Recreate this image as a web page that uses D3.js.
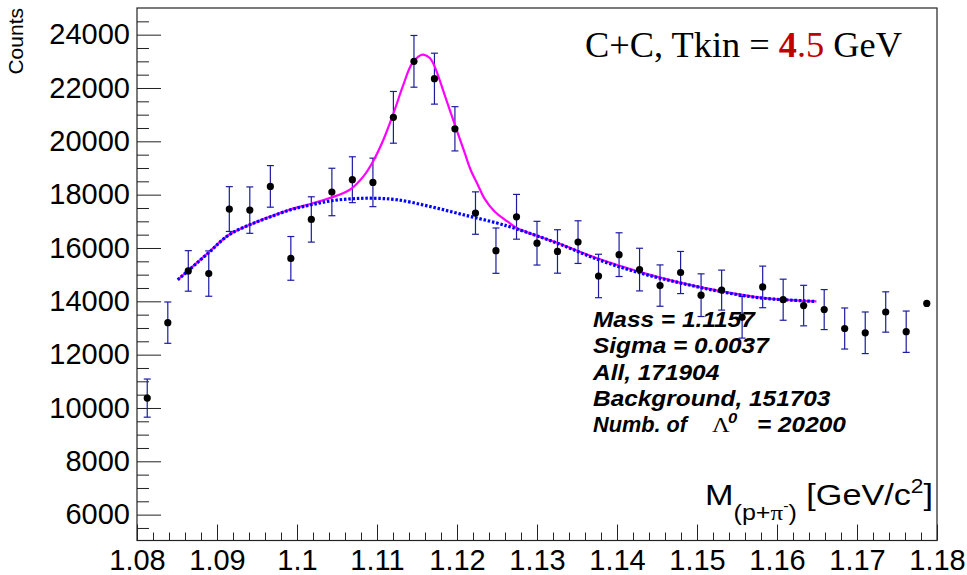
<!DOCTYPE html>
<html>
<head>
<meta charset="utf-8">
<script src="https://cdn.jsdelivr.net/npm/d3@7"></script>
<style>
  body { margin: 0; background: #fff; }
  svg { display: block; }
</style>
</head>
<body>
<script>
// bin centres of the invariant mass histogram, GeV/c^2
var massBins = [1.08128, 1.08385, 1.08641, 1.08897, 1.09154, 1.09410, 1.09667, 1.09923, 1.10179, 1.10436,
  1.10692, 1.10949, 1.11205, 1.11462, 1.11718, 1.11974, 1.12231, 1.12487, 1.12744, 1.13000,
  1.13256, 1.13513, 1.13769, 1.14026, 1.14282, 1.14538, 1.14795, 1.15051, 1.15308, 1.15564,
  1.15821, 1.16077, 1.16333, 1.16590, 1.16846, 1.17103, 1.17359, 1.17615, 1.17872];
var counts = [10370, 13200, 15140, 15040, 17460, 17420, 18310, 15610, 17070, 18100,
  18560, 18460, 20900, 23000, 22350, 20470, 17310, 15900, 17170, 16180,
  15870, 16220, 14950, 15750, 15190, 14590, 15080, 14230, 14420, 13400,
  14540, 14060, 13840, 13690, 12980, 12820, 13600, 12860, 13920];
var countErrors = [715, 775, 760, 850, 840, 870, 780, 820, 850, 890,
  860, 910, 970, 970, 955, 830, 795, 850, 840, 820,
  815, 800, 815, 820, 800, 775, 790, 800, 750, 780,
  780, 770, 760, 750, 770, 780, 756, 775, 0];

// background fit (blue dotted)
var bgMass = [1.0851, 1.0889, 1.0915, 1.0941, 1.0966, 1.0992, 1.1018, 1.1043, 1.1069, 1.1095,
  1.1125, 1.1166, 1.1208, 1.1250, 1.1274, 1.1325, 1.1377, 1.1428, 1.1480, 1.1531, 1.1582, 1.1633, 1.1649];
var bgCounts = [14807, 15808, 16495, 16871, 17160, 17434, 17621, 17770, 17846, 17865,
  17809, 17558, 17246, 16934, 16720, 16184, 15557, 15069, 14683, 14357, 14120, 14019, 13993];

// signal + background fit (magenta)
var fitMass = [1.0851, 1.0889, 1.0915, 1.0941, 1.0966, 1.0992, 1.1018, 1.1041, 1.1066, 1.1083,
  1.1095, 1.1108, 1.1120, 1.1133, 1.1143, 1.1154, 1.1158, 1.1166, 1.1172, 1.1185,
  1.1198, 1.1209, 1.1217, 1.1226, 1.1234, 1.1247, 1.1263, 1.1274, 1.1300, 1.1325,
  1.1377, 1.1428, 1.1480, 1.1531, 1.1582, 1.1633, 1.1649];
var fitCounts = [14807, 15820, 16495, 16871, 17171, 17452, 17659, 17872, 18184, 18685,
  19246, 20060, 21000, 22124, 22874, 23223, 23250, 23126, 22810, 21700,
  20560, 19621, 18934, 18371, 17872, 17371, 16996, 16758, 16458, 16195,
  15595, 15106, 14694, 14375, 14131, 14019, 14000];

var xTicks = [1.08, 1.09, 1.10, 1.11, 1.12, 1.13, 1.14, 1.15, 1.16, 1.17, 1.18];
var yTicks = [6000, 8000, 10000, 12000, 14000, 16000, 18000, 20000, 22000, 24000];

var infoLines = ["Mass = 1.1157", "Sigma = 0.0037", "All, 171904", "Background, 151703"];

var W = 967, H = 575;
var plotLeft = 137, plotRight = 937, plotTop = 8, plotBottom = 540.5;
var sans = "Liberation Sans, Arial, sans-serif", serif = "Liberation Serif, Times New Roman, serif";

var svg = d3.select("body").append("svg").attr("width", W).attr("height", H)
  .attr("font-family", sans);

var x = d3.scaleLinear().domain([1.08, 1.18]).range([plotLeft, plotRight]);
var y = d3.scaleLinear().domain([5030, 25000]).range([plotBottom, plotTop]);

// frame
svg.append("rect").attr("x", plotLeft).attr("y", plotTop)
  .attr("width", plotRight - plotLeft).attr("height", plotBottom - plotTop)
  .attr("fill", "none").attr("stroke", "#222").attr("stroke-width", 1.2);

// minor ticks
var xMinor = d3.range(1.082, 1.18, 0.002).filter(function(v) { return Math.abs(v * 100 - Math.round(v * 100)) > 1e-6; });
var yMinor = d3.range(5500, 25000, 500).filter(function(v) { return v % 2000 != 0; });

svg.append("g").attr("transform", "translate(0," + plotBottom + ")")
  .call(d3.axisBottom(x).tickValues(xMinor).tickSize(-8).tickFormat(""))
  .call(function(g) { g.select(".domain").remove(); });
svg.append("g").attr("transform", "translate(" + plotLeft + ",0)")
  .call(d3.axisLeft(y).tickValues(yMinor).tickSize(-12).tickFormat(""))
  .call(function(g) { g.select(".domain").remove(); });

var xAxis = svg.append("g").attr("transform", "translate(0," + plotBottom + ")")
  .call(d3.axisBottom(x).tickValues(xTicks).tickSize(-16).tickPadding(9).tickFormat(d3.format("~g")));
var yAxis = svg.append("g").attr("transform", "translate(" + plotLeft + ",0)")
  .call(d3.axisLeft(y).tickValues(yTicks).tickSize(-24).tickPadding(7).tickFormat(d3.format("d")));

[xAxis, yAxis].forEach(function(g) {
  g.select(".domain").remove();
  g.selectAll("text").attr("font-size", 29).attr("fill", "#000").attr("font-family", sans);
});
svg.selectAll(".tick line").attr("stroke", "#222");

// y title
svg.append("text").attr("transform", "translate(23,8) rotate(-90)")
  .attr("text-anchor", "end").attr("font-size", 21).text("Counts");

// error bars
var bars = svg.append("g").attr("stroke", "#1c1ca0").attr("stroke-width", 1.2);
massBins.forEach(function(m, i) {
  if (countErrors[i] <= 0) return;
  var cx = x(m), y0 = y(counts[i] - countErrors[i]), y1 = y(counts[i] + countErrors[i]);
  bars.append("line").attr("x1", cx).attr("x2", cx).attr("y1", y0).attr("y2", y1);
  bars.append("line").attr("x1", cx - 3.5).attr("x2", cx + 3.5).attr("y1", y0).attr("y2", y0);
  bars.append("line").attr("x1", cx - 3.5).attr("x2", cx + 3.5).attr("y1", y1).attr("y2", y1);
});

// fits
var line = d3.line().x(function(d) { return x(d[0]); }).y(function(d) { return y(d[1]); })
  .curve(d3.curveCatmullRom);
svg.append("path").datum(d3.zip(fitMass, fitCounts)).attr("d", line)
  .attr("fill", "none").attr("stroke", "#ff00ff").attr("stroke-width", 2.2);
svg.append("path").datum(d3.zip(bgMass, bgCounts)).attr("d", line)
  .attr("fill", "none").attr("stroke", "#0000ff").attr("stroke-width", 3.2)
  .attr("stroke-dasharray", "2.5,1.8");

// markers
svg.append("g").selectAll("circle").data(massBins).join("circle")
  .attr("cx", function(d) { return x(d); })
  .attr("cy", function(d, i) { return y(counts[i]); })
  .attr("r", 3.6).attr("fill", "#000");

// info text (ROOT text is a little wider than Liberation, so stretch it)
var sx = 1.11;
var info = svg.append("g").attr("transform", "translate(593,0) scale(" + sx + ",1)")
  .attr("font-size", 22).attr("font-weight", "bold").attr("font-style", "italic");
infoLines.forEach(function(s, i) {
  info.append("text").attr("x", 0).attr("y", 327 + i * 26.3).text(s);
});
var y5 = 327 + 4 * 26.3;
info.append("text").attr("x", 0).attr("y", y5).attr("textLength", 94 / sx)
  .attr("lengthAdjust", "spacingAndGlyphs").text("Numb. of");
info.append("text").attr("x", (712 - 593) / sx).attr("y", y5).attr("font-family", serif)
  .attr("font-weight", "normal").attr("font-style", "normal").text("\u039B");
info.append("text").attr("x", (728 - 593) / sx).attr("y", y5 - 9).attr("font-size", 15).text("0");
info.append("text").attr("x", (757 - 593) / sx).attr("y", y5).text("= 20200");

// title
var title = svg.append("text").attr("x", 585).attr("y", 57)
  .attr("font-family", serif).attr("font-size", 35)
  .attr("textLength", 317).attr("lengthAdjust", "spacingAndGlyphs");
title.append("tspan").text("C+C, Tkin = ");
title.append("tspan").attr("fill", "#c00000").attr("font-weight", "bold").text("4");
title.append("tspan").attr("fill", "#c00000").text(".5");
title.append("tspan").text(" GeV");

// x title
var xt = svg.append("text").attr("transform", "translate(933,505) scale(1.14,1)")
  .attr("text-anchor", "end").attr("font-size", 30);
xt.append("tspan").text("M");
xt.append("tspan").attr("font-size", 22).attr("dy", 15).text("(p+");
xt.append("tspan").attr("font-size", 22).attr("font-family", serif).text("\u03C0");
xt.append("tspan").attr("font-size", 14).attr("dy", -9).text("-");
xt.append("tspan").attr("font-size", 22).attr("dy", 9).text(")");
xt.append("tspan").attr("dy", -15).text(" [GeV/c");
xt.append("tspan").attr("font-size", 20).attr("dy", -12).text("2");
xt.append("tspan").attr("dy", 12).text("]");
</script>
</body>
</html>
